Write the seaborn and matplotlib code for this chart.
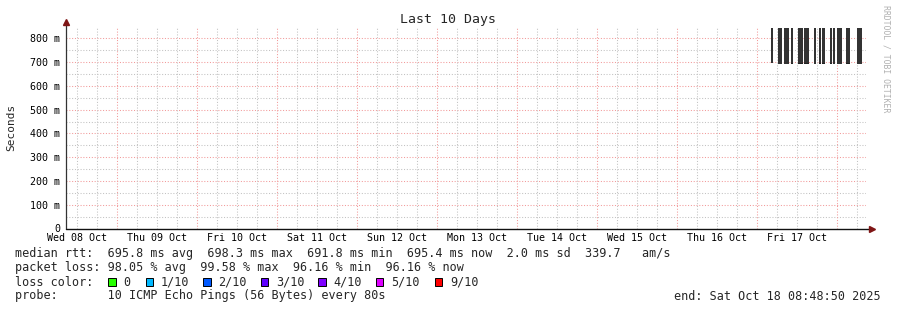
import numpy as np
import pandas as pd
import matplotlib
matplotlib.use("Agg")
import matplotlib.pyplot as plt
from matplotlib.patches import Rectangle
import seaborn as sns

# ---------------- data ----------------
# time axis: days since Wed 08 Oct 2025 00:00
view_start = 0.36725          # Oct 08 08:48:50
view_end = 10.36725           # Oct 18 08:48:50
day_labels = ["Wed 08 Oct", "Thu 09 Oct", "Fri 10 Oct", "Sat 11 Oct", "Sun 12 Oct",
              "Mon 13 Oct", "Tue 14 Oct", "Wed 15 Oct", "Thu 16 Oct", "Fri 17 Oct"]
y_ticks = [0, 100, 200, 300, 400, 500, 600, 700, 800]
y_tick_labels = ["0", "100 m", "200 m", "300 m", "400 m", "500 m", "600 m", "700 m", "800 m"]

# smoke segments (start/end in days, low/high in ms)
smoke_start = [9.176, 9.267, 9.3385, 9.426, 9.5135, 9.596, 9.7135, 9.776, 9.821,
               9.9135, 9.9547, 10.001, 10.1135, 10.251]
smoke_end = [9.201, 9.317, 9.401, 9.4547, 9.576, 9.651, 9.7422, 9.801, 9.851,
             9.9385, 9.9797, 10.0672, 10.1635, 10.3172]
smoke_low = [697, 693, 693, 695, 694, 694, 693, 695, 695, 695, 693, 692, 694, 692]
smoke_high = [843] * 14

loss_labels = ["0", "1/10", "2/10", "3/10", "4/10", "5/10", "9/10"]
loss_colors = ["#26ff00", "#00b8ff", "#0059ff", "#5e00ff", "#7e00ff", "#dd00ff", "#ff0000"]

legend_lines = [
    "median rtt:  695.8 ms avg  698.3 ms max  691.8 ms min  695.4 ms now  2.0 ms sd  339.7   am/s",
    "packet loss: 98.05 % avg  99.58 % max  96.16 % min  96.16 % now",
    "loss color:",
    "probe:       10 ICMP Echo Pings (56 Bytes) every 80s",
]
end_text = "end: Sat Oct 18 08:48:50 2025"
title = "Last 10 Days"

# ---------------- style ----------------
sns.set_style("white")
plt.rcParams["font.family"] = ["DejaVu Sans Mono", "DejaVu Sans"]

W, H = 897, 310
fig = plt.figure(figsize=(W / 100, H / 100), dpi=100)
fig.patch.set_facecolor("white")

def fx(px):
    return px / W

def fy(py):
    return 1 - py / H

ax_left, ax_right = 66.0, 866.0
ax_top, ax_bottom = 26.6, 228.5
ax = fig.add_axes([fx(ax_left), fy(ax_bottom), (ax_right - ax_left) / W, (ax_bottom - ax_top) / H])
ax.set_facecolor("white")
ax.set_xlim(view_start, view_end)
ax.set_ylim(0, 850)

for s in ax.spines.values():
    s.set_visible(False)

dot = (0, (1, 1.7))
gray = "#c2c2c2"
red = "#f29a9a"

# horizontal grid
for v in np.arange(50, 850, 100):
    ax.axhline(v, color=gray, lw=0.75, ls=dot, zorder=1)
for v in y_ticks[1:]:
    ax.axhline(v, color=red, lw=0.75, ls=dot, zorder=1)
# vertical grid
for v in np.arange(0.5, 10.6, 0.25):
    if abs(v - round(v)) > 1e-6 and view_start < v < view_end:
        ax.axvline(v, color=gray, lw=0.75, ls=dot, zorder=1)
for v in range(1, 11):
    ax.axvline(v, color=red, lw=0.75, ls=dot, zorder=1)

# smoke bars
df = pd.DataFrame({"start": smoke_start, "end": smoke_end, "low": smoke_low, "high": smoke_high})
ax.bar(df["start"], df["high"] - df["low"], width=df["end"] - df["start"], bottom=df["low"],
       align="edge", color="#333333", linewidth=0, zorder=3)
ax.bar(df["start"], 2.5, width=df["end"] - df["start"], bottom=df["low"] - 1,
       align="edge", color="#222222", linewidth=0, zorder=4)

# ticks
noons = np.arange(len(day_labels)) + 0.5
ax.set_xticks(noons)
ax.set_xticklabels(day_labels)
ax.set_yticks(y_ticks)
ax.set_yticklabels(y_tick_labels)
ax.tick_params(axis="x", which="major", length=0, pad=3.2, labelsize=7.2, colors="#000000")
ax.tick_params(axis="y", which="major", length=3, direction="inout", width=0.7,
               color="#333333", pad=2.8, labelsize=7.2, labelcolor="#000000")
ax.set_xticks([v for v in np.arange(0.5, 10.6, 0.25) if view_start < v < view_end], minor=True)
ax.tick_params(axis="x", which="minor", length=2.5, direction="inout", width=0.6, color="#555555")
ax.set_yticks(np.arange(50, 850, 100), minor=True)
ax.tick_params(axis="y", which="minor", length=2, direction="inout", width=0.6, color="#555555")

# axes lines with arrows
arrow_c = "#7f1515"
ax.plot([0, 0], [0, 1 + 3.5 / 202], transform=ax.transAxes, color="#333333", lw=0.9,
        clip_on=False, zorder=5)
ax.plot([0, 1 + 3.0 / 800], [0, 0], transform=ax.transAxes, color="#111111", lw=1.0,
        clip_on=False, zorder=5)
ax.plot([0], [1 + 4.5 / 202], transform=ax.transAxes, marker="^", ms=4.5, color=arrow_c,
        clip_on=False, zorder=6)
ax.plot([1 + 6.0 / 800], [0], transform=ax.transAxes, marker=">", ms=4.5, color=arrow_c,
        clip_on=False, zorder=6)

# title and labels
fig.text(fx(448), fy(19.5), title, ha="center", va="center", fontsize=9.5)
fig.text(fx(11), fy(127), "Seconds", rotation=90, ha="center", va="center", fontsize=8)
fig.text(fx(886), fy(59), "RRDTOOL / TOBI OETIKER", rotation=-90, ha="center", va="center",
         fontsize=5.9, color="#b0b0b0")

# legend block
line_y = [254, 268, 282, 296]
for txt, yy in zip(legend_lines, line_y):
    fig.text(fx(15), fy(yy), txt, ha="left", va="center", fontsize=8.5)
fig.text(fx(881), fy(296), end_text, ha="right", va="center", fontsize=8.5)

box_x = [108.3, 145.7, 203.3, 260.7, 318.3, 375.7, 435.0]
for bx, col, lab in zip(box_x, loss_colors, loss_labels):
    fig.patches.append(Rectangle((fx(bx), fy(285.7)), 7.4 / W, 7.4 / H, transform=fig.transFigure,
                                 facecolor=col, edgecolor="black", linewidth=0.7))
    fig.text(fx(bx + 15), fy(282), lab, ha="left", va="center", fontsize=8.5)

fig.savefig("out.png", dpi=100, facecolor="white")
